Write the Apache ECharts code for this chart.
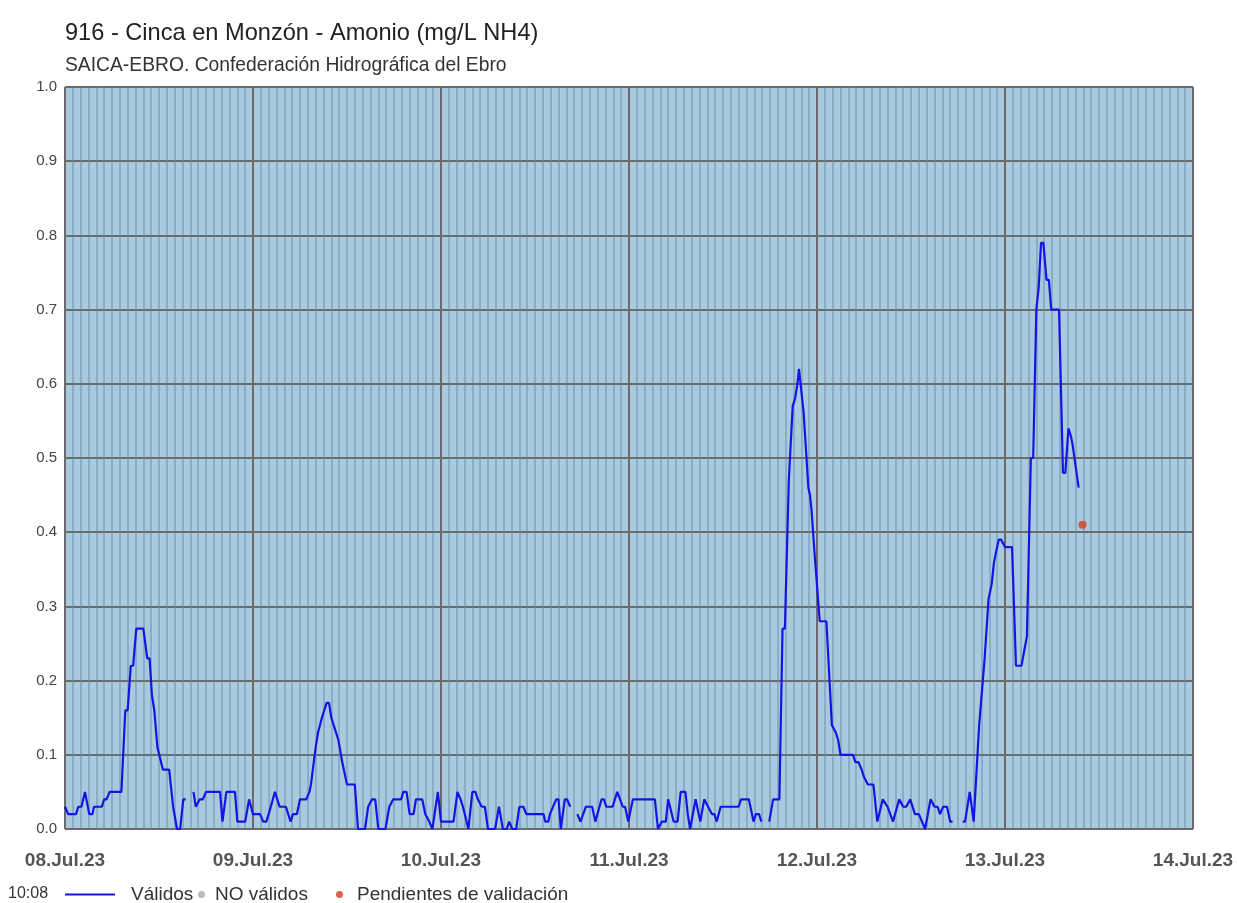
<!DOCTYPE html>
<html>
<head>
<meta charset="utf-8">
<script src="https://cdn.jsdelivr.net/npm/echarts@6/dist/echarts.min.js"></script>
<style>
html,body{margin:0;padding:0;background:#fff;}
#chart{width:1237px;height:903px;}
</style>
</head>
<body>
<div id="chart"></div>
<script>
// ---- data (hours since 08.Jul.23 00:00) ----
const dayLabels = ['08.Jul.23','09.Jul.23','10.Jul.23','11.Jul.23','12.Jul.23','13.Jul.23','14.Jul.23'];
const hours = [
0,0.4,1.4,1.7,2.1,2.55,2.8,3.1,3.5,3.7,4.7,5.0,5.3,5.7,7.2,7.7,8.0,8.4,8.7,9.1,10.0,10.5,10.8,11.1,11.4,11.8,12.0,12.5,13.3,13.8,14.0,14.3,14.7,15.1,15.4,15.9,
16.4,16.7,16.9,17.2,17.6,18.0,19.8,20.1,20.3,20.6,21.7,22.0,23.0,23.5,24.0,
24.9,25.3,25.7,26.0,26.8,27.4,28.2,28.8,29.1,29.6,30.0,30.8,31.2,31.4,32.0,32.3,32.8,33.4,33.7,34.0,34.3,34.9,35.4,35.6,36.0,37.0,37.4,38.3,38.7,39.2,39.6,40.0,40.9,41.4,41.9,42.9,43.2,43.6,44.0,44.5,44.8,45.6,46.0,46.5,46.9,47.6,48.0,
49.6,50.1,50.5,50.8,51.5,52.0,52.4,52.7,53.2,53.6,54.0,54.9,55.4,55.9,56.4,56.7,57.1,57.6,58.0,58.5,58.9,61.1,61.3,61.7,61.9,62.7,63.0,63.3,63.8,64.1,64.5,65.0,
65.4,65.8,66.0,66.5,67.3,67.7,67.9,68.5,68.8,69.1,69.9,70.5,70.7,71.2,71.5,71.9,72.5,
75.3,75.7,75.9,76.2,76.7,77.0,77.2,77.7,78.2,78.6,79.2,79.5,79.8,79.9,80.5,80.7,81.1,81.6,81.8,82.6,82.9,83.2,83.7,86.0,86.3,87.3,87.5,87.9,88.2,88.6,88.9,89.4,
89.9,90.4,91.2,91.6,91.9,92.4,92.6,92.9,93.2,93.5,93.7,93.9,94.3,94.5,94.9,95.1,95.3,95.7,95.9,96.35,97.2,97.9,98.0,98.4,98.7,99.0,100.6,100.9,101.3,101.7,102.0,102.5,103.2,103.7,104.4,105.0,105.7,106.5,107.0,107.4,107.9,108.5,109.0,109.8,110.5,111.0,111.4,111.7,112.1,112.6,113.0,113.3,114.0,
114.6,114.9,115.5,116.0,116.2,116.7,116.9,117.4,117.6,117.9,118.3,118.6,118.8,119.0,119.2,119.5,120.0,120.9,121.4,122.1,122.8,123.0,123.3,123.6,124.0,124.3,124.6,124.9,125.3,125.6,125.9,126.9,127.4,127.7,128.1,128.4,128.6,128.8,129.4
];
const values = [
0.03,0.02,0.02,0.03,0.03,0.05,0.05,0.02,0.02,0.03,0.03,0.04,0.04,0.05,0.05,0.16,0.16,0.22,0.22,0.27,0.27,0.23,0.23,0.18,0.16,0.11,0.11,0.08,0.08,0.03,0.03,0,0,0.04,0.04,null,
0.05,0.03,0.03,0.04,0.04,0.05,0.05,0.01,0.01,0.05,0.05,0.01,0.01,0.04,0.02,
0.02,0.01,0.01,0.02,0.05,0.03,0.03,0.01,0.02,0.02,0.04,0.04,0.05,0.06,0.11,0.13,0.15,0.17,0.17,0.15,0.14,0.12,0.09,0.09,0.06,0.06,0,0,0.03,0.04,0.04,0,0,0.03,0.04,0.04,0.05,0.05,0.02,0.02,0.04,0.04,0.02,0.01,0,0.05,0.01,
0.01,0.05,0.04,0.03,0,0.05,0.05,0.04,0.03,0.03,0,0,0.03,0,0,0.01,0,0,0.03,0.03,0.02,0.02,0.01,0.01,0.02,0.04,0.04,0,0.04,0.04,0.03,null,
0.02,0.01,0.01,0.03,0.03,0.01,0.01,0.04,0.04,0.03,0.03,0.05,0.05,0.03,0.03,0.01,0.04,
0.04,0,0,0.01,0.01,0.04,0.04,0.01,0.01,0.05,0.05,0.02,0,0,0.04,0.04,0.01,0.04,0.04,0.02,0.02,0.01,0.03,0.03,0.04,0.04,0.03,0.01,0.02,0.02,0.01,null,
0.01,0.04,0.04,0.27,0.27,0.47,0.47,0.57,0.58,0.60,0.62,0.62,0.56,0.56,0.46,0.45,0.43,0.37,0.37,0.28,0.28,0.14,0.14,0.13,0.12,0.10,0.10,0.09,0.09,0.08,0.07,0.06,0.06,0.01,0.04,0.03,0.01,0.04,0.03,0.03,0.04,0.02,0.02,0,0.04,0.03,0.03,0.02,0.03,0.03,0.01,0.01,null,
0.01,0.01,0.05,0.01,0.01,0.14,0.14,0.23,0.23,0.31,0.33,0.36,0.36,0.38,0.39,0.39,0.38,0.38,0.22,0.22,0.26,0.26,0.50,0.50,0.70,0.73,0.79,0.79,0.74,0.74,0.70,0.70,0.48,0.48,0.54,0.53,0.52,0.52,0.46
];
const invalidHours = [];
const invalidValues = [];
const pendingHours = [129.9];
const pendingValues = [0.41];

const lineData = hours.map((h,i)=>[h, values[i]===null ? '-' : values[i]]);
const invalidData = invalidHours.map((h,i)=>[h, invalidValues[i]]);
const pendingData = pendingHours.map((h,i)=>[h, pendingValues[i]]);

const chart = echarts.init(document.getElementById('chart'), null, {renderer:'canvas'});
const font = 'Arial, "Liberation Sans", sans-serif';
const legendText = {fontFamily:font,fontSize:19,color:'#333'};
chart.setOption({
  animation:false,
  backgroundColor:'#ffffff',
  textStyle:{fontFamily:font},
  title:[
    {text:'916 - Cinca en Monzón - Amonio (mg/L NH4)', left:60, top:16,
     textStyle:{fontFamily:font,fontSize:23.6,fontWeight:'normal',color:'#222'}},
    {text:'SAICA-EBRO. Confederación Hidrográfica del Ebro', left:60, top:51,
     textStyle:{fontFamily:font,fontSize:19.3,fontWeight:'normal',color:'#333'}}
  ],
  graphic:[
    {type:'text', left:8, top:886, style:{text:'10:08', font:'16px '+font, fill:'#333'}}
  ],
  legend:[
    {data:['Válidos'], left:65, top:885, padding:0, icon:'rect', itemWidth:50, itemHeight:2, selectedMode:false,
     textStyle:Object.assign({padding:[0,0,0,11]}, legendText)},
    {data:['NO válidos'], left:198, top:885, padding:0, itemWidth:7, itemHeight:7, selectedMode:false,
     textStyle:Object.assign({padding:[0,0,0,5]}, legendText)},
    {data:['Pendientes de validación'], left:336, top:885, padding:0, itemWidth:7, itemHeight:7, selectedMode:false,
     textStyle:Object.assign({padding:[0,0,0,9]}, legendText)}
  ],
  grid:{left:65, right:44, top:87, bottom:74, show:true, backgroundColor:'#a9c9df',
        borderColor:'#666', borderWidth:1, containLabel:false},
  xAxis:{
    type:'value', min:0, max:144, interval:24,
    axisLine:{show:false}, axisTick:{show:false},
    axisLabel:{margin:22, fontFamily:font, fontSize:19, fontWeight:'bold', color:'#555',
      formatter:(v)=>dayLabels[Math.round(v/24)]},
    splitLine:{show:true, lineStyle:{color:'#6a6a6a', width:2}},
    minorTick:{show:false, splitNumber:24},
    minorSplitLine:{show:true, lineStyle:{color:'rgba(95,135,165,0.42)', width:2}}
  },
  yAxis:{
    type:'value', min:0, max:1, interval:0.1,
    axisLine:{show:false}, axisTick:{show:false},
    axisLabel:{margin:8, fontFamily:font, fontSize:15, color:'#444',
      formatter:(v)=>v.toFixed(1)},
    splitLine:{show:true, lineStyle:{color:'#6a6a6a', width:2}}
  },
  series:[
    {name:'Válidos', type:'line', data:lineData, showSymbol:false, symbol:'none',
     connectNulls:false, lineStyle:{color:'#1414e6', width:2.2}, itemStyle:{color:'#1414e6'}, z:5},
    {name:'NO válidos', type:'scatter', data:invalidData, symbolSize:7,
     itemStyle:{color:'#aaaaaa'}},
    {name:'Pendientes de validación', type:'scatter', data:pendingData, symbolSize:8,
     itemStyle:{color:'#d0401b'}, z:6}
  ]
});
</script>
</body>
</html>
